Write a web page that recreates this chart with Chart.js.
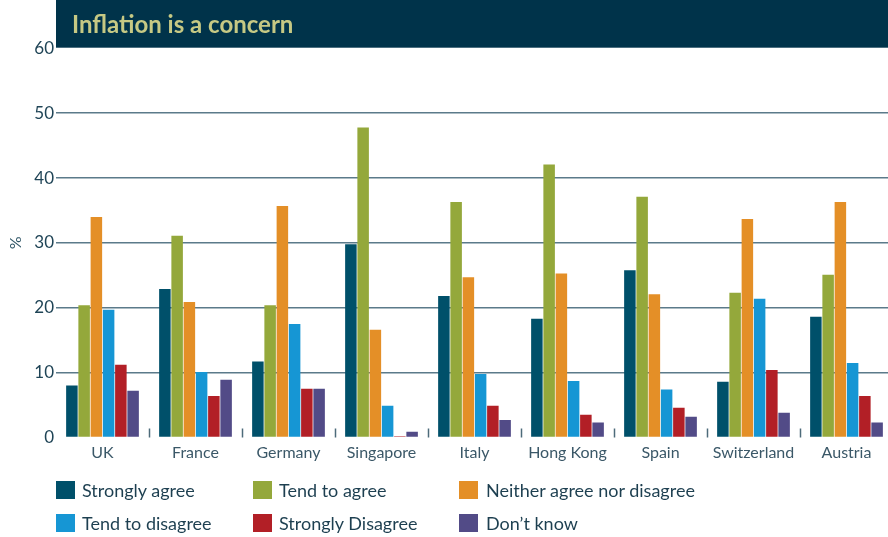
<!DOCTYPE html>
<html>
<head>
<meta charset="utf-8">
<script src="https://cdn.jsdelivr.net/npm/chart.js@4/dist/chart.umd.min.js"></script>
<style>
  html, body { margin: 0; padding: 0; background: #ffffff; overflow: hidden; }
  body { width: 888px; height: 537px; position: relative; }
  #wrap { position: absolute; left: 0; top: 0; width: 893px; height: 470px; }
  #legend { position: absolute; left: 0; top: 0; width: 888px; height: 537px; pointer-events: none; }
  .item { position: absolute; height: 18px; font-family: Lato, "Open Sans", sans-serif; font-size: 18px; color: #1d3f50; white-space: nowrap; }
  .item .box { position: absolute; left: 0; top: 0; width: 19px; height: 18px; }
  .item .txt { position: absolute; top: -2px; line-height: 22px; }
</style>
</head>
<body>
<div id="wrap"><canvas id="chart"></canvas></div>
<div id="legend"></div>
<script>
// Survey: "Inflation is a concern" — share of respondents (%) by country
const categories = ['UK', 'France', 'Germany', 'Singapore', 'Italy', 'Hong Kong', 'Spain', 'Switzerland', 'Austria'];
const stronglyAgree    = [8.0, 22.9, 11.7, 29.8, 21.8, 18.3, 25.8, 8.6, 18.6];
const tendToAgree      = [20.4, 31.1, 20.4, 47.8, 36.3, 42.1, 37.1, 22.3, 25.1];
const neither          = [34.0, 20.9, 35.7, 16.6, 24.7, 25.3, 22.1, 33.7, 36.3];
const tendToDisagree   = [19.7, 10.1, 17.5, 4.9, 9.8, 8.7, 7.4, 21.4, 11.5];
const stronglyDisagree = [11.2, 6.4, 7.5, 0.2, 4.9, 3.5, 4.6, 10.4, 6.4];
const dontKnow         = [7.2, 8.9, 7.5, 0.9, 2.7, 2.3, 3.2, 3.8, 2.3];
const yTicks = [0, 10, 20, 30, 40, 50, 60];

const seriesNames = ['Strongly agree', 'Tend to agree', 'Neither agree nor disagree',
                     'Tend to disagree', 'Strongly Disagree', 'Don\u2019t know'];
const seriesValues = [stronglyAgree, tendToAgree, neither, tendToDisagree, stronglyDisagree, dontKnow];
const seriesColors = ['#00506a', '#94a83b', '#e48f27', '#1696d4', '#b21f26', '#524b87'];

const titleText = 'Inflation is a concern';

// Title banner across the top of the plot
const bannerPlugin = {
  id: 'banner',
  afterDraw(chart) {
    const ctx = chart.ctx;
    const left = chart.chartArea.left;
    ctx.save();
    ctx.fillStyle = '#00334a';
    ctx.fillRect(left, 0, chart.width - left, chart.chartArea.top - 0.6);
    ctx.fillStyle = '#c6c984';
    ctx.font = 'bold 24px Lato, "Open Sans", sans-serif';
    ctx.textBaseline = 'alphabetic';
    ctx.fillText(titleText, left + 16, 33);
    ctx.restore();
  }
};

// Short marks on the baseline between country groups
const separatorPlugin = {
  id: 'separators',
  afterDatasetsDraw(chart) {
    const x = chart.scales.x;
    const bottom = chart.chartArea.bottom;
    const ctx = chart.ctx;
    ctx.save();
    ctx.strokeStyle = '#4d6b7a';
    ctx.lineWidth = 1.5;
    for (let i = 1; i < categories.length; i++) {
      const px = Math.round((x.getPixelForTick(i - 1) + x.getPixelForTick(i)) / 2) + 0.5;
      ctx.beginPath();
      ctx.moveTo(px, bottom - 9);
      ctx.lineTo(px, bottom);
      ctx.stroke();
    }
    ctx.restore();
  }
};

const chart = new Chart(document.getElementById('chart'), {
  type: 'bar',
  data: {
    labels: categories,
    datasets: seriesNames.map((name, i) => ({
      label: name,
      data: seriesValues[i],
      backgroundColor: seriesColors[i],
      borderWidth: 0,
      categoryPercentage: 0.79,
      barPercentage: 0.94
    }))
  },
  options: {
    responsive: true,
    maintainAspectRatio: false,
    animation: false,
    layout: { padding: { top: 48.3, left: 0, right: 0, bottom: 0 } },
    plugins: { legend: { display: false }, tooltip: { enabled: false }, title: { display: false } },
    scales: {
      x: {
        grid: { display: false, drawTicks: false },
        border: { display: false },
        ticks: { color: '#3b5868', font: { family: 'Lato, "Open Sans", sans-serif', size: 16 }, padding: 6, maxRotation: 0, autoSkip: false },
        afterFit(scale) { scale.height = 32.5; }
      },
      y: {
        min: yTicks[0],
        max: yTicks[yTicks.length - 1],
        afterBuildTicks(scale) { scale.ticks = yTicks.map(v => ({ value: v })); },
        grid: {
          drawTicks: false,
          color: ctx => (ctx.tick && (ctx.tick.value === 0 || ctx.tick.value === 60)) ? 'rgba(0,0,0,0)' : '#5b7a8a',
          lineWidth: 1.6
        },
        border: { display: false },
        ticks: { color: '#1f4456', font: { family: 'Lato, "Open Sans", sans-serif', size: 17 }, padding: 2 },
        title: { display: true, text: '%', color: '#2f5566', font: { family: 'Lato, "Open Sans", sans-serif', size: 16 }, padding: { top: 6, bottom: 0 } },
        afterFit(scale) { scale.width = 56; }
      }
    }
  },
  plugins: [bannerPlugin, separatorPlugin]
});

// Legend in three columns, two rows, built from the chart's datasets
const legend = document.getElementById('legend');
const colX = [56, 253, 459];
const rowY = [481, 514];
chart.data.datasets.forEach((ds, i) => {
  const item = document.createElement('div');
  item.className = 'item';
  item.style.left = colX[i % 3] + 'px';
  item.style.top = rowY[Math.floor(i / 3)] + 'px';
  const box = document.createElement('span');
  box.className = 'box';
  box.style.background = ds.backgroundColor;
  const txt = document.createElement('span');
  txt.className = 'txt';
  txt.style.left = (i % 3 === 2 ? 27 : 26) + 'px';
  txt.textContent = ds.label;
  item.appendChild(box);
  item.appendChild(txt);
  legend.appendChild(item);
});
</script>
</body>
</html>
